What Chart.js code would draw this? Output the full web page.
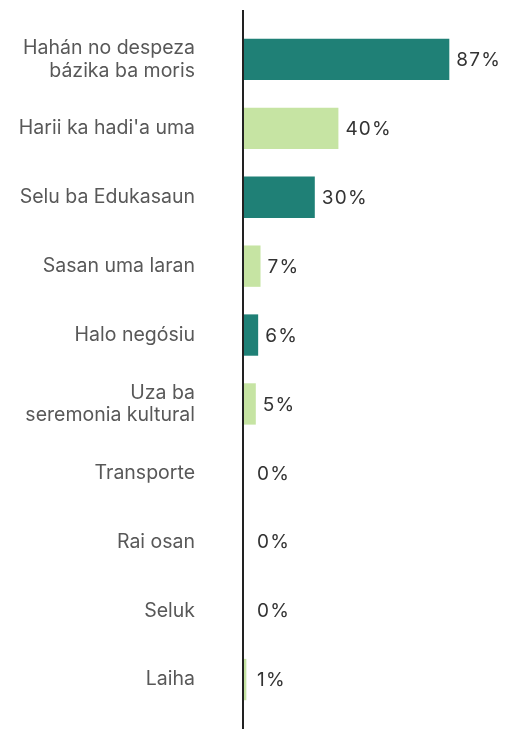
<!DOCTYPE html>
<html><head><meta charset="utf-8">
<script src="https://cdn.jsdelivr.net/npm/chart.js@4/dist/chart.umd.min.js"></script>
<style>html,body{margin:0;padding:0;background:#fff}#wrap{width:509px;height:729px}</style>
</head><body><div id="wrap"><canvas id="c"></canvas></div>
<script>
const categories = [
  ["Hahán no despeza","bázika ba moris"],
  "Harii ka hadi'a uma",
  "Selu ba Edukasaun",
  "Sasan uma laran",
  "Halo negósiu",
  ["Uza ba","seremonia kultural"],
  "Transporte",
  "Rai osan",
  "Seluk",
  "Laiha"
];
const values = [87, 40, 30, 7, 6, 5, 0, 0, 0, 1];
const valueLabels = ["87%","40%","30%","7%","6%","5%","0%","0%","0%","1%"];
const DARK = '#1f8076', LIGHT = '#c6e4a3';
const barColors = values.map((v,i)=> i%2===0 ? DARK : LIGHT);

const axisLine = {
  id:'axisLine',
  beforeDatasetsDraw(chart){
    const ctx = chart.ctx, x = chart.scales.x.getPixelForValue(0) - 1;
    ctx.save(); ctx.strokeStyle = '#222'; ctx.lineWidth = 2;
    ctx.beginPath(); ctx.moveTo(x, 10); ctx.lineTo(x, chart.height); ctx.stroke(); ctx.restore();
  }
};
const valueLabelPlugin = {
  id:'valueLabels',
  afterDatasetsDraw(chart){
    const ctx = chart.ctx, meta = chart.getDatasetMeta(0), x0 = chart.scales.x.getPixelForValue(0);
    ctx.save(); ctx.fillStyle = '#333'; ctx.font = '19px Inter, "Noto Sans", sans-serif';
    ctx.textBaseline = 'middle'; ctx.textAlign = 'left';
    try { ctx.letterSpacing = '1.2px'; } catch(e) {}
    meta.data.forEach((bar,i)=>{
      const x = Math.max(bar.x, x0 + 6) + 7;
      ctx.fillText(valueLabels[i], x, bar.y + 1);
    });
    ctx.restore();
  }
};

new Chart(document.getElementById('c'), {
  type:'bar',
  data:{ labels: categories, datasets:[{ data: values, backgroundColor: barColors, borderWidth:0, barPercentage:0.6, categoryPercentage:1 }]},
  options:{
    indexAxis:'y', responsive:true, maintainAspectRatio:false, animation:false,
    layout:{ padding:{ top:25, bottom:15, left:0, right:29 } },
    plugins:{ legend:{display:false}, tooltip:{enabled:false} },
    scales:{
      x:{ min:0, max:100, display:false },
      y:{
        grid:{ display:false, drawTicks:false },
        border:{ display:false },
        afterFit(scale){ scale.width = 244; scale.paddingTop = 0; scale.paddingBottom = 0; },
        ticks:{ padding:49, color:'#585858', font:{ family:'Inter, "Noto Sans", sans-serif', size:19.5, lineHeight:1.15 } }
      }
    }
  },
  plugins:[axisLine, valueLabelPlugin]
});
</script></body></html>
